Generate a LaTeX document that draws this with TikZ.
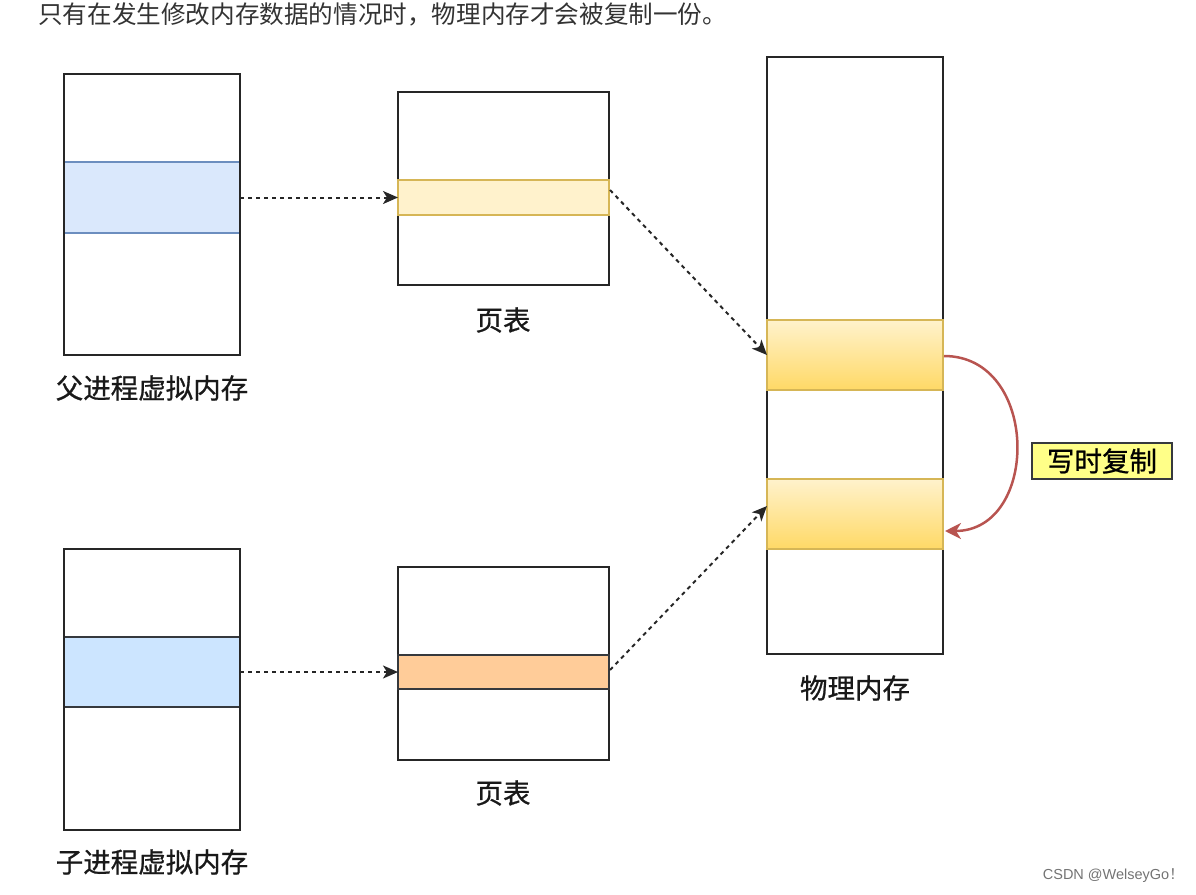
\documentclass[tikz,border=0pt]{standalone}
\usepackage{fontspec}
\setmainfont{Noto Sans CJK SC}
\newfontfamily\lblfont[FakeBold=0.8]{Noto Sans CJK SC}
\newfontfamily\wmfont{Liberation Sans}
\usetikzlibrary{arrows.meta}
\definecolor{boxline}{HTML}{36393D}
\definecolor{blueA}{HTML}{DAE8FC}
\definecolor{blueAline}{HTML}{6C8EBF}
\definecolor{blueB}{HTML}{CCE5FF}
\definecolor{yelA}{HTML}{FFF2CC}
\definecolor{yelB}{HTML}{FFD966}
\definecolor{yelline}{HTML}{D6B656}
\definecolor{orangeA}{HTML}{FFCC99}
\definecolor{redline}{HTML}{B85450}
\definecolor{labelfill}{HTML}{FFFF88}
\definecolor{txt}{HTML}{333333}
\tikzset{
  membox/.style={draw=black!85, line width=1.5pt, fill=white, inner sep=0pt, outer sep=0pt},
  band/.style={line width=1.5pt, inner sep=0pt, outer sep=0pt},
  lbl/.style={font=\lblfont\fontsize{27.5}{32}\selectfont, text=black!90, inner sep=0pt},
  dasharrow/.style={draw=black!85, line width=2pt, dash pattern=on 4pt off 4pt, -{Stealth[length=15pt,width=13pt,inset=4pt]}},
  redarrow/.style={draw=redline, line width=2.5pt, -{Stealth[length=16pt,width=16pt,inset=5pt]}}
}
\begin{document}
\begin{tikzpicture}[x=1pt,y=-1pt]
\useasboundingbox (0,0) rectangle (1196,894);
% header text
\node[anchor=west, text=txt, inner sep=0pt, font=\fontsize{24.6}{28}\selectfont] (head) at (38,14) {只有在发生修改内存数据的情况时，物理内存才会被复制一份。};
% parent virtual memory
\node[membox, minimum width=176pt, minimum height=281pt] (pv) at (152,214.5) {};
\node[band, draw=blueAline, fill=blueA, minimum width=176pt, minimum height=71pt] (pvb) at (152,197.5) {};
\node[lbl] (pvl) at (152,388) {父进程虚拟内存};
% page table 1
\node[membox, minimum width=211pt, minimum height=193pt] (pt1) at (503.5,188.5) {};
\node[band, draw=yelline, fill=yelA, minimum width=211pt, minimum height=35pt] (pt1b) at (503.5,197.5) {};
\node[lbl] (pt1l) at (503,320) {页表};
% physical memory
\node[membox, minimum width=176pt, minimum height=597pt] (pm) at (855,355.5) {};
\node[band, draw=yelline, top color=yelA, bottom color=yelB, minimum width=176pt, minimum height=70pt] (pm1) at (855,355) {};
\node[band, draw=yelline, top color=yelA, bottom color=yelB, minimum width=176pt, minimum height=70pt] (pm2) at (855,514) {};
\node[lbl] (pml) at (855,688) {物理内存};
% child virtual memory
\node[membox, minimum width=176pt, minimum height=281pt] (cv) at (152,689.5) {};
\node[band, draw=boxline, fill=blueB, minimum width=176pt, minimum height=70pt] (cvb) at (152,672) {};
\node[lbl] (cvl) at (152,862) {子进程虚拟内存};
% page table 2
\node[membox, minimum width=211pt, minimum height=193pt] (pt2) at (503.5,663.5) {};
\node[band, draw=boxline, fill=orangeA, minimum width=211pt, minimum height=34pt] (pt2b) at (503.5,672) {};
\node[lbl] (pt2l) at (503,793) {页表};
% redraw outer borders on top of bands
\draw[black!85, line width=1.5pt] (pv.north west) rectangle (pv.south east);
\draw[black!85, line width=1.5pt] (cv.north west) rectangle (cv.south east);
% arrows
\draw[dasharrow] (pvb.east) -- (pt1b.west);
\draw[dasharrow] (cvb.east) -- (pt2b.west);
\coordinate (t1s) at (610,190);
\draw[dasharrow] (t1s) -- (pm1.west);
\coordinate (t2s) at (610,670);
\coordinate (t2e) at (767,506);
\draw[dasharrow] (t2s) -- (t2e);
% copy-on-write arrow
\coordinate (cs) at (944,356);
\coordinate (ce) at (945,531);
\draw[redarrow] (cs) .. controls (1040,356) and (1040,531) .. (ce);
\node[draw=boxline, line width=1.5pt, fill=labelfill, minimum width=140pt, minimum height=36pt, inner sep=0pt, font=\lblfont\fontsize{27.5}{32}\selectfont] (cow) at (1102,461) {写时复制};
% watermark
\node[anchor=east, text=black!55, inner sep=0pt, font=\wmfont\fontsize{14.5}{16}\selectfont] (wm) at (1184,876) {CSDN @WelseyGo{\rmfamily ！}};
\end{tikzpicture}
\end{document}
